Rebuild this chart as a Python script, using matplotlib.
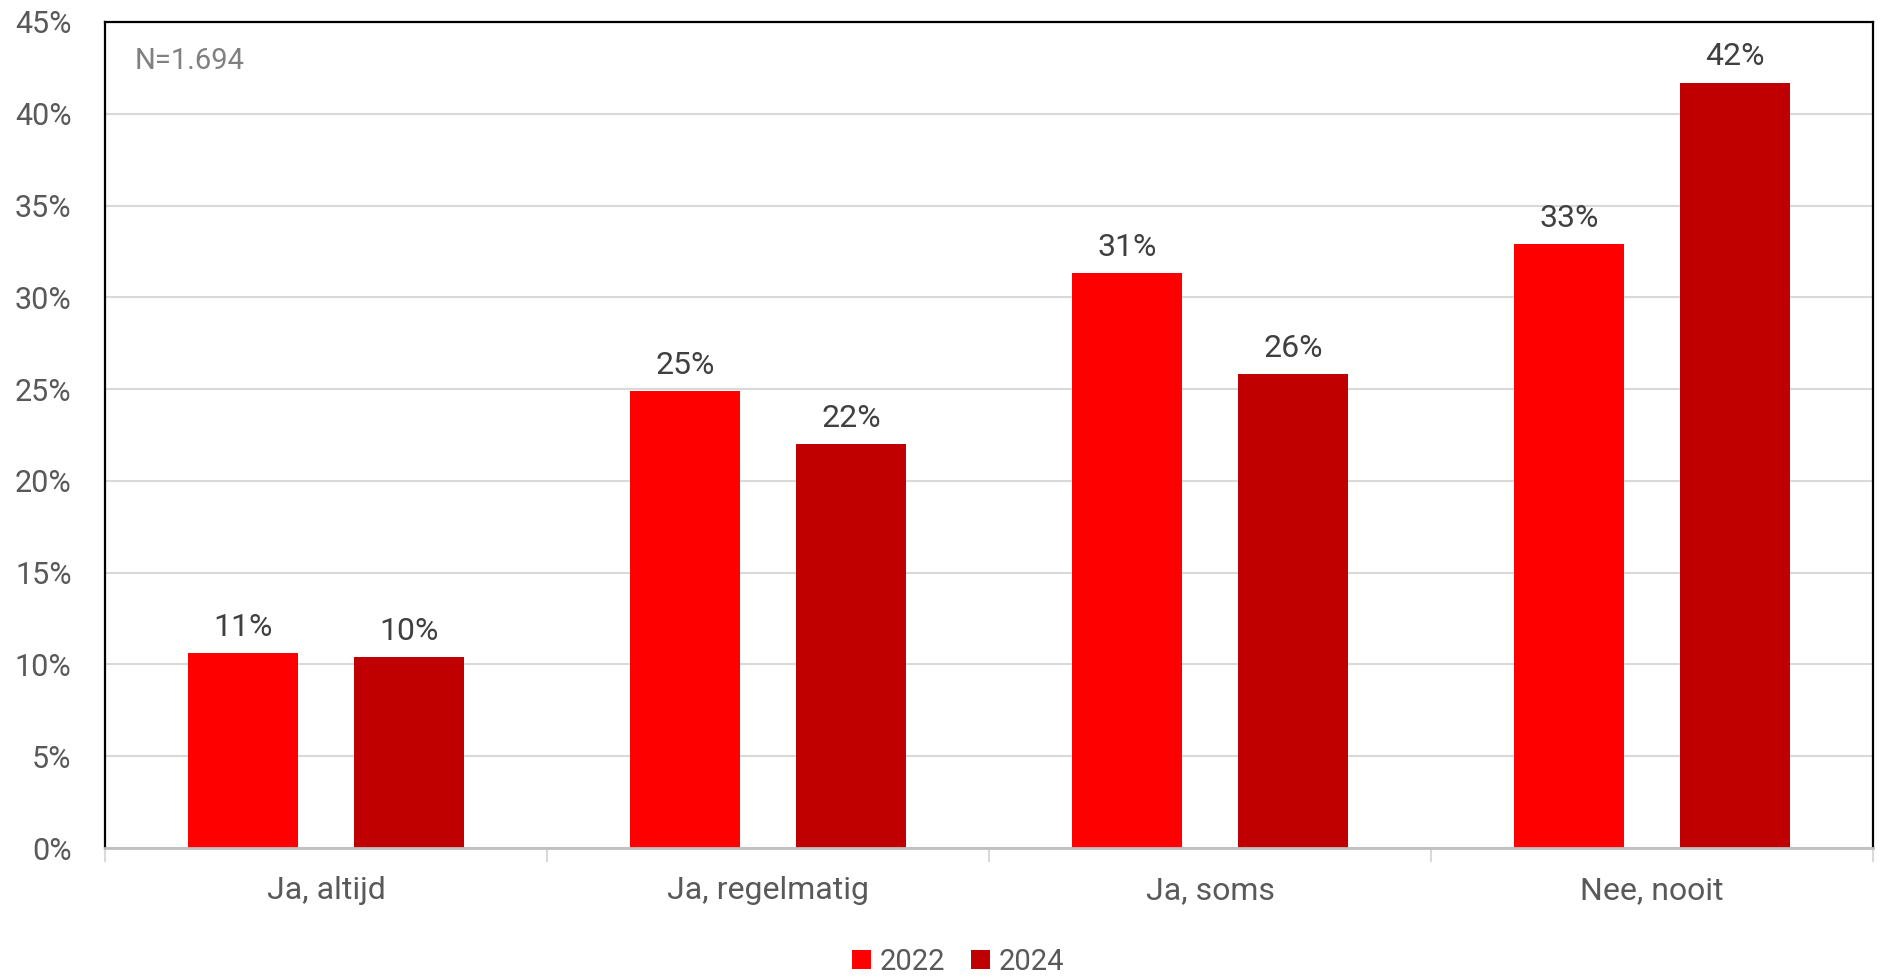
import matplotlib
matplotlib.use("Agg")
import matplotlib.pyplot as plt
import numpy as np
from matplotlib.patches import Patch

plt.rcParams['font.family'] = ['Roboto', 'DejaVu Sans']

categories = ["Ja, altijd", "Ja, regelmatig", "Ja, soms", "Nee, nooit"]
series_names = ["2022", "2024"]
values_2022 = [10.6, 24.9, 31.3, 32.9]
values_2024 = [10.4, 22.0, 25.8, 41.7]
colors = ["#FF0000", "#C00000"]
yticks = [0, 5, 10, 15, 20, 25, 30, 35, 40, 45]
note = "N=1.694"

fig = plt.figure(figsize=(18.85, 9.77), dpi=100)
ax = fig.add_axes([105/1885, 1-848/977, (1873-105)/1885, (848-22)/977])

x = np.arange(len(categories))
bw = 0.25
off = 0.1875
for vals, c, o in [(values_2022, colors[0], -off), (values_2024, colors[1], off)]:
    bars = ax.bar(x + o, vals, width=bw, color=c, zorder=3)
    for b, v in zip(bars, vals):
        ax.annotate(f"{v:.0f}%", (b.get_x() + b.get_width()/2, v),
                    xytext=(0, 8), textcoords="offset points",
                    ha="center", va="bottom", fontsize=23, color="#404040")

ax.set_xlim(-0.5, len(categories) - 0.5)
ax.set_ylim(0, 45)
ax.set_yticks(yticks)
ax.set_yticklabels([f"{t}%" for t in yticks])
ax.yaxis.grid(True, color="#d9d9d9", linewidth=1.5, zorder=0)
ax.set_axisbelow(True)
ax.tick_params(axis="y", length=0, pad=24, labelsize=22, labelcolor="#595959")

# category boundary ticks (major) and category labels (minor)
ax.set_xticks(np.arange(-0.5, len(categories)), minor=False)
ax.set_xticklabels([""] * (len(categories) + 1))
ax.tick_params(axis="x", which="major", length=10, width=1.5, color="#d9d9d9")
ax.set_xticks(x, minor=True)
ax.set_xticklabels(categories, minor=True)
ax.tick_params(axis="x", which="minor", length=0, pad=20, labelsize=23, labelcolor="#595959")

for s in ["left", "top", "right"]:
    ax.spines[s].set_color("black")
    ax.spines[s].set_linewidth(1.6)
ax.spines["bottom"].set_color("#bfbfbf")
ax.spines["bottom"].set_linewidth(2)
ax.spines["bottom"].set_zorder(4)

ax.text(0.017, 0.953, note, transform=ax.transAxes, ha="left", va="center",
        fontsize=21, color="#808080")

handles = [Patch(facecolor=c, edgecolor="none") for c in colors]
fig.legend(handles, series_names, loc="center", bbox_to_anchor=(958/1885, 1-962/977),
           ncol=2, frameon=False, fontsize=21, handlelength=0.65, handleheight=0.65,
           handletextpad=0.3, columnspacing=0.9, labelcolor="#595959",
           borderpad=0.1)

fig.savefig("out.png", dpi=100)
